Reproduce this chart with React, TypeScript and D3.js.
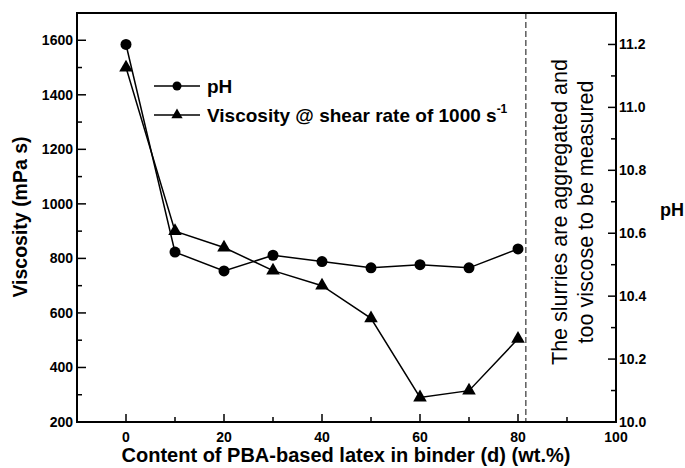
import React from "react";
import * as d3 from "d3";

const contents = [0, 10, 20, 30, 40, 50, 60, 70, 80];
const phValues = [11.2, 10.54, 10.48, 10.53, 10.51, 10.49, 10.5, 10.49, 10.55];
const viscValues = [1500, 900, 840, 755, 700, 580, 290, 315, 505];
const xTickLabels = [0, 20, 40, 60, 80, 100];
const leftTickLabels = [200, 400, 600, 800, 1000, 1200, 1400, 1600];
const rightTickLabels = [10.0, 10.2, 10.4, 10.6, 10.8, 11.0, 11.2];
const limitContent = 81.6;

const W = 685, H = 468;
const L = 77, R = 616, T = 13, B = 422;
const FONT = "'Liberation Sans', Arial, Helvetica, sans-serif";

export default function App() {
  const x = d3.scaleLinear().domain([-10, 100]).range([L, R]);
  const yL = d3.scaleLinear().domain([200, 1700]).range([B, T]);
  const yR = d3.scaleLinear().domain([10, 11.3]).range([B, T]);

  const phLine = d3.line<number>().x((_, i) => x(contents[i])).y((d) => yR(d));
  const viscLine = d3.line<number>().x((_, i) => x(contents[i])).y((d) => yL(d));
  const tri = d3.symbol().type(d3.symbolTriangle).size(80)();
  const triSmall = d3.symbol().type(d3.symbolTriangle).size(55)();

  const xMinor = d3.range(10, 100, 20);
  const leftMinor = d3.range(300, 1700, 200);
  const rightMinor = d3.range(10.1, 11.3, 0.2);

  return (
    <svg width={W} height={H} style={{ position: "absolute", left: 0, top: 0 }} fontFamily={FONT}>
      <rect x={0} y={0} width={W} height={H} fill="#fff" />
      {/* dashed limit line */}
      <line x1={x(limitContent)} x2={x(limitContent)} y1={T} y2={B} stroke="#444" strokeWidth={1.3} strokeDasharray="6,3" />
      {/* frame */}
      <rect x={L} y={T} width={R - L} height={B - T} fill="none" stroke="#000" strokeWidth={2} />
      {/* x ticks */}
      {xTickLabels.map((v) => (
        <g key={"xt" + v}>
          <line x1={x(v)} x2={x(v)} y1={B} y2={B - 8} stroke="#000" strokeWidth={1.5} />
          <text x={x(v)} y={442} textAnchor="middle" fontSize={14} fontWeight="bold">{v}</text>
        </g>
      ))}
      {xMinor.map((v) => (
        <line key={"xm" + v} x1={x(v)} x2={x(v)} y1={B} y2={B - 5} stroke="#000" strokeWidth={1.5} />
      ))}
      {/* left ticks */}
      {leftTickLabels.map((v) => (
        <g key={"lt" + v}>
          <line x1={L} x2={L + 9} y1={yL(v)} y2={yL(v)} stroke="#000" strokeWidth={1.5} />
          <text x={73} y={yL(v) + 5} textAnchor="end" fontSize={14} fontWeight="bold">{v}</text>
        </g>
      ))}
      {leftMinor.map((v) => (
        <line key={"lm" + v} x1={L} x2={L + 5} y1={yL(v)} y2={yL(v)} stroke="#000" strokeWidth={1.5} />
      ))}
      {/* right ticks */}
      {rightTickLabels.map((v) => (
        <g key={"rt" + v}>
          <line x1={R} x2={R - 8} y1={yR(v)} y2={yR(v)} stroke="#000" strokeWidth={1.5} />
          <text x={619} y={yR(v) + 5} textAnchor="start" fontSize={14} fontWeight="bold">{v.toFixed(1)}</text>
        </g>
      ))}
      {rightMinor.map((v) => (
        <line key={"rm" + v} x1={R} x2={R - 5} y1={yR(v)} y2={yR(v)} stroke="#000" strokeWidth={1.5} />
      ))}
      {/* data lines */}
      <path d={phLine(phValues) || ""} fill="none" stroke="#000" strokeWidth={1.5} />
      <path d={viscLine(viscValues) || ""} fill="none" stroke="#000" strokeWidth={1.5} />
      {phValues.map((v, i) => (
        <circle key={"pc" + i} cx={x(contents[i])} cy={yR(v)} r={5.5} fill="#000" />
      ))}
      {viscValues.map((v, i) => (
        <path key={"vt" + i} d={tri || ""} transform={`translate(${x(contents[i])},${yL(v)})`} fill="#000" />
      ))}
      {/* legend */}
      <line x1={154} x2={200} y1={86} y2={86} stroke="#000" strokeWidth={1.5} />
      <circle cx={177} cy={86} r={4.5} fill="#000" />
      <text x={207} y={93} fontSize={19} fontWeight="bold">pH</text>
      <line x1={154} x2={200} y1={115} y2={115} stroke="#000" strokeWidth={1.5} />
      <path d={triSmall || ""} transform="translate(177,115)" fill="#000" />
      <text x={207} y={122} fontSize={19} fontWeight="bold">
        Viscosity @ shear rate of 1000 s<tspan dy={-9} fontSize={12}>-1</tspan>
      </text>
      {/* annotation */}
      <text transform="translate(567,212) rotate(-90)" textAnchor="middle" fontSize={21.5}>The slurries are aggregated and</text>
      <text transform="translate(593,212) rotate(-90)" textAnchor="middle" fontSize={21.5}>too viscose to be measured</text>
      {/* axis titles */}
      <text transform="translate(27,217) rotate(-90)" textAnchor="middle" fontSize={19.5} fontWeight="bold">Viscosity (mPa s)</text>
      <text x={660} y={216} fontSize={18} fontWeight="bold">pH</text>
      <text x={346} y={462} textAnchor="middle" fontSize={20} fontWeight="bold">Content of PBA-based latex in binder (d) (wt.%)</text>
    </svg>
  );
}
